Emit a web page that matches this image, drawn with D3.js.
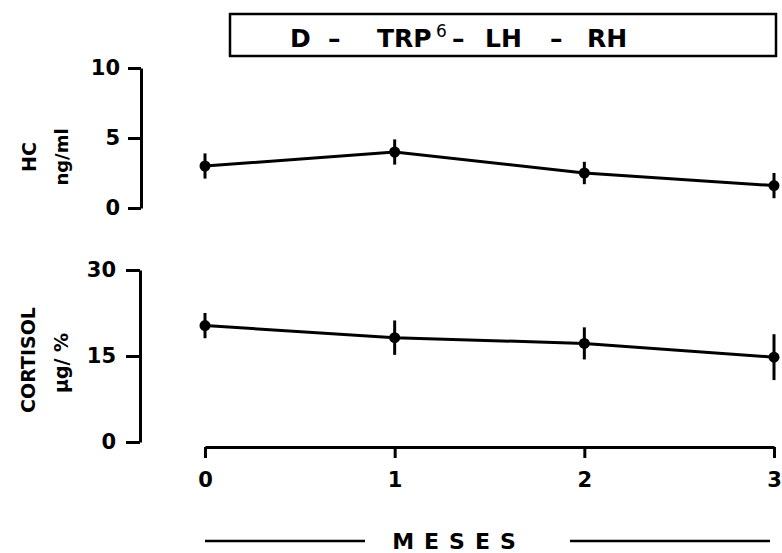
<!DOCTYPE html>
<html>
<head>
<meta charset="utf-8">
<script src="https://cdn.jsdelivr.net/npm/d3@7"></script>
<style>
  body { margin: 0; background: #fff; }
  text { font-family: "DejaVu Sans", sans-serif; font-weight: bold; fill: #000; }
</style>
</head>
<body>
<div id="chart"></div>
<script>
// data
var months = [0, 1, 2, 3];
var hcMean = [3.0, 4.0, 2.5, 1.6];
var hcErr = [0.9, 0.9, 0.8, 0.9];
var cortMean = [20.3, 18.2, 17.2, 14.8];
var cortErr = [2.2, 3.0, 2.8, 4.0];
var hcTicks = [0, 5, 10];
var cortTicks = [0, 15, 30];
var titleParts = ["D", "\u2013", "TRP", "6", "\u2013", "LH", "\u2013", "RH"];

var width = 782, height = 553;

var svg = d3.select("#chart")
    .append("svg")
    .attr("width", width)
    .attr("height", height);

var x = d3.scaleLinear().domain([0, 3]).range([205, 774]);
var yHC = d3.scaleLinear().domain([0, 10]).range([208, 68]);
var yCort = d3.scaleLinear().domain([0, 30]).range([442, 270]);

// title box
svg.append("rect")
    .attr("x", 230).attr("y", 14)
    .attr("width", 546).attr("height", 42)
    .style("fill", "none").style("stroke", "#000").style("stroke-width", 2.5);

// title pieces, placed along the box
var titleX = [290, 328, 377, 436, 452, 485, 550, 587];
svg.append("g").selectAll("text").data(titleParts).enter().append("text")
    .attr("x", function(d, i) { return titleX[i]; })
    .attr("y", function(d, i) { return i === 3 ? 37 : 47; })
    .style("font-size", function(d, i) { return i === 3 ? "17px" : "25px"; })
    .style("font-weight", function(d, i) { return i === 3 ? "normal" : "bold"; })
    .text(function(d) { return d; });

function styleAxis(g) {
  g.selectAll("path, line").style("stroke", "#000").style("stroke-width", 3);
  g.selectAll("text").style("font-size", "21px").style("font-family", "DejaVu Sans, sans-serif").style("font-weight", "bold");
}

// y axes
svg.append("g")
    .attr("transform", "translate(141,0)")
    .call(d3.axisLeft(yHC).tickValues(hcTicks).tickFormat(d3.format("d")).tickSize(13).tickSizeOuter(0).tickPadding(8))
    .call(styleAxis);

svg.append("g")
    .attr("transform", "translate(140,0)")
    .call(d3.axisLeft(yCort).tickValues(cortTicks).tickFormat(d3.format("d")).tickSize(14).tickSizeOuter(0).tickPadding(10))
    .call(styleAxis);

// x axis
svg.append("g")
    .attr("transform", "translate(0,447)")
    .call(d3.axisBottom(x).tickValues(months).tickFormat(d3.format("d")).tickSize(11).tickSizeOuter(0).tickPadding(14))
    .call(styleAxis);

// y labels
svg.append("text")
    .attr("transform", "translate(36,157) rotate(-90)")
    .style("text-anchor", "middle").style("font-size", "19px")
    .text("HC");
svg.append("text")
    .attr("transform", "translate(68,157) rotate(-90)")
    .style("text-anchor", "middle").style("font-size", "18px")
    .text("ng/ml");
svg.append("text")
    .attr("transform", "translate(35,360) rotate(-90)")
    .style("text-anchor", "middle").style("font-size", "19px")
    .text("CORTISOL");
svg.append("text")
    .attr("transform", "translate(68,363) rotate(-90)")
    .style("text-anchor", "middle").style("font-size", "19px")
    .text("\u03bcg/ %");

// x title with side rules
svg.append("text")
    .attr("x", 459).attr("y", 549)
    .style("text-anchor", "middle").style("font-size", "22px")
    .style("letter-spacing", "10px")
    .text("MESES");
svg.append("line").attr("x1", 205).attr("x2", 365).attr("y1", 541).attr("y2", 541)
    .style("stroke", "#000").style("stroke-width", 2.5);
svg.append("line").attr("x1", 570).attr("x2", 770).attr("y1", 541).attr("y2", 541)
    .style("stroke", "#000").style("stroke-width", 2.5);

// series
function drawSeries(means, errs, y) {
  var data = months.map(function(m, i) { return {m: m, v: means[i], e: errs[i]}; });
  var line = d3.line().x(function(d) { return x(d.m); }).y(function(d) { return y(d.v); });
  svg.append("path").datum(data)
      .attr("d", line)
      .style("fill", "none").style("stroke", "#000").style("stroke-width", 3);
  svg.append("g").selectAll("line").data(data).enter().append("line")
      .attr("x1", function(d) { return x(d.m); })
      .attr("x2", function(d) { return x(d.m); })
      .attr("y1", function(d) { return y(d.v - d.e); })
      .attr("y2", function(d) { return y(d.v + d.e); })
      .style("stroke", "#000").style("stroke-width", 3);
  svg.append("g").selectAll("circle").data(data).enter().append("circle")
      .attr("cx", function(d) { return x(d.m); })
      .attr("cy", function(d) { return y(d.v); })
      .attr("r", 5.5)
      .style("fill", "#000");
}

drawSeries(hcMean, hcErr, yHC);
drawSeries(cortMean, cortErr, yCort);
</script>
</body>
</html>
